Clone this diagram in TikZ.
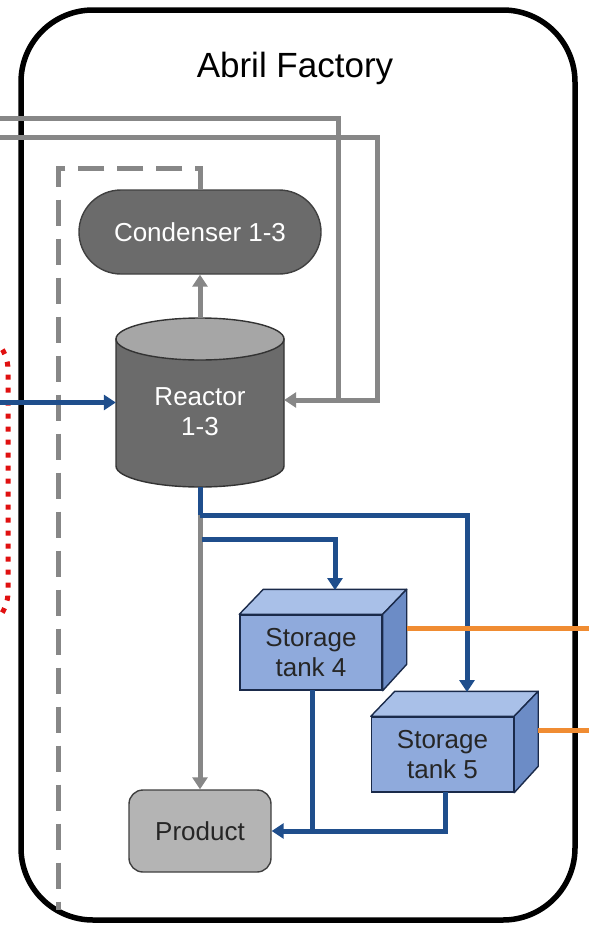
\documentclass[tikz,border=0pt]{standalone}
\usepackage{fontspec}
\setmainfont{Liberation Sans}
\usetikzlibrary{arrows.meta,calc}
\definecolor{lngray}{HTML}{878787}
\definecolor{dkfill}{HTML}{6B6B6B}
\definecolor{topfill}{HTML}{A6A6A6}
\definecolor{prodfill}{HTML}{B4B4B4}
\definecolor{tankfront}{HTML}{8FAADC}
\definecolor{tanktop}{HTML}{A9C0E8}
\definecolor{tankside}{HTML}{6C8CC6}
\definecolor{tankedge}{HTML}{1A2A4A}
\definecolor{flowblue}{HTML}{1F4E8C}
\definecolor{flowor}{HTML}{F08C32}
\definecolor{dotred}{HTML}{E01010}
\begin{document}
\begin{tikzpicture}[x=1pt,y=-1pt,
  tip/.style={-{Triangle[length=12pt,width=15pt]}},
  grayline/.style={draw=lngray,line width=5pt},
  blueline/.style={draw=flowblue,line width=5pt},
  orline/.style={draw=flowor,line width=5pt},
  lbl/.style={font=\fontsize{26}{30}\selectfont,align=center},
  tankbox/.style={lbl,draw=tankedge,line width=1.4pt,fill=tankfront,text=black!85,minimum width=142pt,minimum height=75pt,inner sep=0pt},
  tankfacetop/.style={draw=tankedge,line width=1.4pt,fill=tanktop,line join=round},
  tankfaceside/.style={draw=tankedge,line width=1.4pt,fill=tankside,line join=round},
]
\useasboundingbox (0,0) rectangle (589,927);
\fill[white] (0,0) rectangle (589,927);

% factory border
\draw[line width=5.5pt,rounded corners=72pt] (21,10) rectangle (575,920);
\node[font=\fontsize{35}{40}\selectfont] (title) at (295,68) {Abril Factory};

% red dotted boundary (cut at left)
\draw[dotred,line width=5pt,dash pattern=on 5pt off 8pt,rounded corners=40pt] (-60,330) rectangle (8,632);

% condenser
\node[lbl,draw=black!75,line width=1.4pt,fill=dkfill,text=white,rounded corners=42pt,minimum width=242pt,minimum height=84pt,inner sep=0pt] (cond) at (200,232) {Condenser 1-3};

% dashed system boundary
\coordinate (dash1) at (200,168);
\coordinate (dash2) at (58,168);
\coordinate (dash3) at (58,910);
\draw[lngray,line width=5pt,dash pattern=on 26pt off 13pt] (cond.north) -- (dash1) -- (dash2) -- (dash3);

% reactor (cylinder)
\node[minimum width=168pt,minimum height=169pt,inner sep=0pt] (reactor) at (200,402.5) {};
\filldraw[fill=dkfill,draw=black!80,line width=1.4pt] (116,339) -- (116,466) arc[start angle=180,end angle=0,x radius=84,y radius=21] -- (284,339) -- cycle;
\filldraw[fill=topfill,draw=black!80,line width=1.4pt] (200,339) ellipse[x radius=84,y radius=21];
\node[lbl,text=white] (reactorlbl) at (200,412) {Reactor\\1-3};

% reactor -> condenser
\draw[grayline,tip] (reactor.north) -- (cond.south);

% recycle lines from left
\coordinate (g1) at (0,118);
\coordinate (g2) at (0,137);
\coordinate (g1c) at (338,400);
\coordinate (g2c) at (377,400);
\draw[grayline] (g1) -| (g1c);
\draw[grayline,tip] (g2) -| (g2c) -- (reactor.east |- g2c);

% blue feed from left
\coordinate (bin) at (0,402.5);
\draw[blueline,tip] (bin) -- (reactor.west);

% storage tanks
\node[tankbox] (t4) at (311,652.5) {Storage\\tank 4};
\filldraw[tankfacetop] (t4.north west) -- ++(24,-25) -- ($(t4.north east)+(24,-25)$) -- (t4.north east) -- cycle;
\filldraw[tankfaceside] (t4.north east) -- ++(24,-25) -- ++(0,75) -- (t4.south east) -- cycle;

\node[tankbox] (t5) at (442.5,754.5) {Storage\\tank 5};
\filldraw[tankfacetop] (t5.north west) -- ++(24,-25) -- ($(t5.north east)+(24,-25)$) -- (t5.north east) -- cycle;
\filldraw[tankfaceside] (t5.north east) -- ++(24,-25) -- ++(0,75) -- (t5.south east) -- cycle;

% product
\node[lbl,draw=black!75,line width=1.4pt,fill=prodfill,text=black!85,rounded corners=14pt,minimum width=142pt,minimum height=82pt,inner sep=0pt] (prod) at (200,831) {Product};

% flows from reactor
\coordinate (split1) at (200,515);
\coordinate (split2) at (202,539);
\coordinate (t5in) at (467,692);
\coordinate (t4in) at (335,590);
\draw[grayline,tip] (split1) -- (prod.north);
\draw[blueline] (reactor.south) -- (split1);
\draw[blueline,tip] (split1) -| (t5in);
\draw[blueline,tip] (split2) -| (t4in);

% tanks -> product
\coordinate (t4out) at (312,690);
\coordinate (t5out) at (445,792);
\coordinate (join) at (312,831);
\draw[blueline] (t5out) |- (join);
\draw[blueline,tip] (t4out) -- (join) -- (prod.east);

% orange outflows
\coordinate (o4) at (589,628);
\coordinate (o5) at (589,730);
\draw[orline] (t4.east |- o4) ++(24,0) -- (o4);
\draw[orline] (t5.east |- o5) ++(24,0) -- (o5);
\end{tikzpicture}
\end{document}
